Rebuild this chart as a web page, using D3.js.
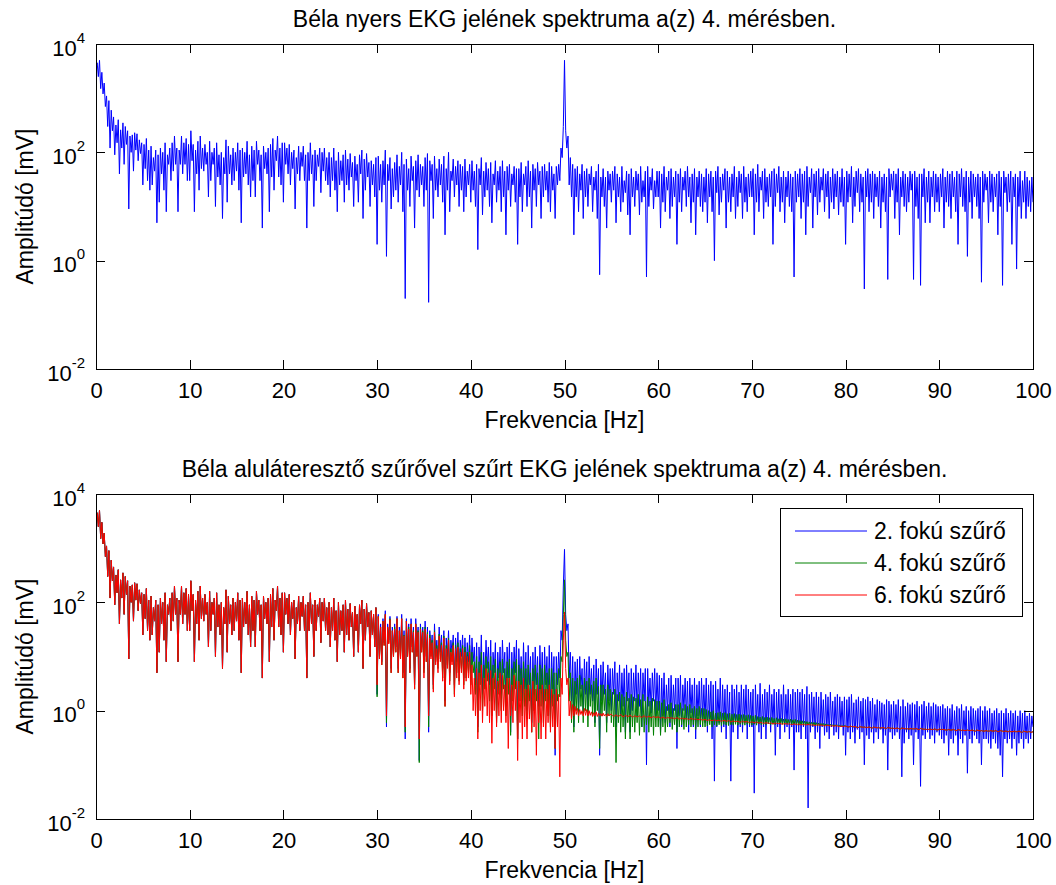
<!DOCTYPE html>
<html>
<head>
<meta charset="utf-8">
<script src="https://cdn.jsdelivr.net/npm/d3@7/dist/d3.min.js"></script>
<style>
  html, body { margin: 0; padding: 0; background: #ffffff; }
  svg { display: block; font-family: "Liberation Sans", Arial, sans-serif; }
</style>
</head>
<body>
<svg id="chart" width="1056" height="885"></svg>
<script>
// ---------- DATA (amplitude in mV, frequency bins every 0.125 Hz; one line = 5 Hz) ----------
const FREQ_STEP_HZ = 0.125;

const titles = [
  "Béla nyers EKG jelének spektruma a(z) 4. mérésben.",
  "Béla aluláteresztő szűrővel szűrt EKG jelének spektruma a(z) 4. mérésben."
];
const xLabel = "Frekvencia [Hz]";
const yLabel = "Amplitúdó [mV]";
const xTicks = [0, 10, 20, 30, 40, 50, 60, 70, 80, 90, 100];
const yTickExponents = [-2, 0, 2, 4];
const legendLabels = ["2. fokú szűrő", "4. fokú szűrő", "6. fokú szűrő"];
const seriesColors = ["#0000ff", "#008000", "#ff0000"];

// 0 – 29.875 Hz: band shared by the raw and the three filtered spectra
const lowBand = [
  3500, 4500, 2500, 5000, 1500, 3000, 1200, 1900, 700, 1100, 300, 900, 120, 600, 250, 450, 90, 320, 150, 400, 40, 260, 120, 350, 60, 300, 140, 250, 9, 200, 100, 210, 45, 230, 110, 220, 70, 170, 95, 150,
  25, 140, 50, 180, 30, 110, 20, 130, 25, 80, 45, 110, 5, 90, 12, 120, 40, 100, 20, 150, 8, 90, 60, 120, 30, 150, 45, 200, 60, 120, 8, 110, 60, 200, 40, 150, 60, 180, 30, 140,
  30, 250, 70, 140, 8, 110, 40, 160, 20, 200, 50, 120, 45, 140, 60, 100, 15, 160, 30, 100, 60, 120, 10, 150, 35, 90, 25, 100, 6, 80, 40, 170, 12, 130, 40, 90, 25, 120, 30, 100,
  45, 150, 20, 110, 5, 120, 35, 100, 40, 160, 25, 90, 15, 130, 30, 110, 15, 160, 60, 110, 30, 90, 4, 130, 50, 100, 40, 120, 8, 140, 35, 180, 20, 110, 70, 200, 35, 120, 25, 150,
  12, 150, 60, 120, 40, 140, 25, 100, 50, 110, 9, 80, 40, 130, 30, 100, 55, 130, 30, 90, 4, 100, 30, 150, 40, 90, 10, 110, 30, 90, 55, 120, 18, 100, 45, 120, 30, 80, 25, 100,
  15, 80, 30, 120, 20, 70, 8, 100, 25, 70, 30, 90, 12, 110, 25, 75, 20, 95, 35, 65, 10, 85, 30, 60, 12, 90, 40, 110, 6, 75, 20, 95, 35, 65, 10, 70, 25, 60, 15, 80
];

// 30 – 100 Hz: raw ECG spectrum
const rawHigh = [
  2, 85, 20, 60, 12, 70, 25, 110, 1.2, 60, 30, 80, 9, 50, 15, 65, 20, 90, 12, 55, 25, 100, 8, 60, 0.2, 75, 20, 50, 10, 85, 30, 55, 4, 70, 20, 90, 15, 60, 25, 55,
  10, 80, 20, 95, 0.17, 70, 30, 60, 6, 85, 20, 50, 15, 75, 25, 60, 12, 85, 3, 50, 20, 100, 8, 45, 30, 75, 15, 55, 25, 70, 10, 60, 20, 55, 8, 75, 15, 45, 25, 60,
  12, 70, 20, 45, 10, 60, 1.6, 50, 25, 80, 7, 45, 15, 65, 20, 50, 10, 65, 5, 40, 25, 70, 12, 45, 20, 55, 8, 70, 15, 45, 3, 55, 20, 60, 10, 40, 25, 55, 12, 50,
  2, 50, 15, 65, 8, 40, 25, 55, 10, 70, 15, 45, 4, 60, 20, 50, 10, 65, 25, 45, 6, 55, 15, 60, 20, 45, 12, 65, 8, 55, 20, 40, 6, 55, 25, 60, 30, 120, 80, 300,
  5000, 250, 120, 200, 25, 80, 15, 60, 3, 50, 15, 55, 8, 40, 20, 60, 6, 45, 15, 50, 10, 40, 25, 55, 8, 35, 20, 45, 6, 60, 0.55, 35, 15, 50, 10, 35, 4, 45, 20, 40,
  12, 45, 20, 55, 5, 40, 15, 35, 8, 55, 12, 30, 18, 45, 7, 40, 3, 50, 15, 35, 10, 45, 20, 40, 7, 55, 12, 30, 15, 45, 0.5, 55, 10, 35, 20, 50, 9, 30, 15, 45,
  15, 45, 4, 40, 12, 55, 8, 35, 20, 45, 6, 50, 10, 35, 15, 45, 2, 40, 12, 50, 8, 35, 20, 45, 10, 55, 15, 35, 5, 40, 12, 50, 3, 35, 15, 45, 10, 40, 8, 35,
  12, 50, 5, 40, 15, 45, 8, 35, 1, 45, 18, 55, 7, 35, 12, 40, 20, 50, 4, 45, 12, 35, 8, 40, 15, 55, 6, 35, 10, 45, 18, 40, 6, 55, 12, 35, 8, 40, 15, 45,
  15, 50, 3, 40, 12, 60, 8, 35, 20, 45, 6, 50, 12, 35, 10, 40, 15, 45, 2, 50, 10, 40, 18, 55, 8, 35, 12, 45, 5, 35, 15, 45, 10, 40, 8, 35, 0.5, 45, 12, 40,
  15, 50, 6, 40, 12, 45, 3, 55, 10, 35, 18, 50, 4, 40, 15, 45, 7, 50, 12, 35, 20, 50, 8, 40, 15, 45, 6, 35, 12, 50, 9, 40, 15, 45, 7, 35, 12, 50, 10, 35,
  2, 45, 12, 40, 15, 55, 5, 35, 10, 45, 18, 50, 8, 40, 12, 35, 0.3, 45, 15, 50, 8, 40, 12, 45, 6, 40, 15, 35, 10, 45, 4, 35, 12, 40, 8, 35, 0.45, 50, 15, 40,
  20, 45, 6, 40, 12, 50, 3, 35, 15, 45, 10, 40, 8, 35, 12, 45, 20, 40, 0.45, 45, 10, 35, 6, 40, 0.35, 40, 15, 50, 5, 35, 12, 45, 5, 35, 15, 45, 8, 40, 12, 35,
  8, 40, 15, 50, 4, 35, 12, 45, 10, 40, 6, 45, 15, 35, 8, 45, 2, 40, 15, 50, 10, 35, 8, 45, 1.2, 35, 12, 45, 6, 40, 15, 35, 10, 40, 6, 35, 0.4, 45, 12, 40,
  20, 35, 5, 45, 12, 40, 8, 35, 15, 40, 3, 45, 10, 35, 0.35, 45, 18, 35, 8, 40, 12, 45, 2, 35, 15, 40, 0.7, 35, 10, 45, 6, 30, 12, 45, 6, 35, 10, 30, 8, 35, 12
];

// 30 – 100 Hz: 2nd order low-pass filtered spectrum
const order2High = [
  2, 60, 10, 40, 8, 50, 18, 70, 0.5, 40, 20, 55, 6, 35, 12, 40, 15, 55, 6, 35, 12, 60, 5, 30, 0.3, 50, 12, 40, 6, 50, 15, 35, 3, 50, 12, 35, 0.12, 40, 15, 35,
  6, 45, 10, 35, 0.4, 30, 12, 25, 3, 40, 10, 20, 8, 35, 12, 25, 6, 30, 1.5, 22, 10, 30, 5, 20, 12, 25, 3, 22, 8, 28, 5, 20, 10, 25, 4, 22, 6, 18, 8, 25,
  4, 22, 8, 15, 3, 18, 0.5, 15, 5, 25, 2, 12, 4, 20, 6, 15, 3, 20, 1.5, 12, 5, 18, 0.8, 12, 4, 15, 2, 20, 5, 12, 1.2, 15, 4, 18, 0.4, 12, 3, 15, 5, 20,
  0.3, 14, 3, 10, 1.5, 18, 2.5, 12, 1, 16, 3, 10, 0.6, 12, 2, 15, 3, 10, 1.2, 16, 2.5, 12, 1, 15, 3, 10, 1.5, 16, 0.8, 12, 2.5, 10, 0.15, 10, 3, 12, 4, 30, 20, 200,
  950, 60, 30, 40, 4, 12, 1.5, 10, 0.5, 8, 2, 9, 1, 10, 2.5, 6, 1, 9, 2, 8, 0.8, 10, 2, 6, 1.5, 7, 0.6, 9, 2, 6, 0.15, 7, 1.5, 8, 2, 5, 0.6, 7, 1.5, 6,
  1, 6, 2, 8, 0.5, 5, 1.5, 7, 0.8, 5, 1.2, 6, 0.4, 7, 1.5, 5, 0.4, 6, 1, 5, 1.5, 7, 0.8, 5, 1.2, 6, 0.5, 5, 1.5, 6, 0.1, 6, 1.2, 4, 0.9, 5, 1.5, 6, 0.8, 5,
  1, 4.5, 0.4, 4, 0.8, 5, 0.6, 3, 1, 4, 0.5, 4.5, 0.7, 3, 1, 4, 0.2, 4, 0.8, 4.5, 0.5, 3, 1, 4, 0.7, 3.5, 0.4, 4, 0.9, 3, 0.5, 4, 0.3, 3, 0.8, 3.5, 0.5, 4, 0.7, 3,
  0.6, 4, 0.4, 3, 0.7, 3.5, 0.3, 3, 0.05, 3.5, 0.5, 2.5, 0.6, 4, 0.4, 3, 0.5, 2.5, 0.3, 3, 0.6, 2.2, 0.05, 3, 0.4, 2.5, 0.6, 3, 0.3, 2.2, 0.5, 3, 0.4, 2.5, 0.6, 3, 0.3, 2.5, 0.5, 2.2,
  0.5, 2.5, 0.03, 3, 0.6, 2, 0.4, 3.2, 0.3, 2, 0.5, 2.5, 0.3, 2.2, 0.6, 3, 0.4, 2, 0.6, 2.5, 0.15, 2.2, 0.5, 2.5, 0.3, 2, 0.6, 3, 0.4, 2, 0.5, 2.5, 0.3, 2, 0.5, 2.5, 0.08, 2.2, 0.4, 2.5,
  0.4, 2.2, 0.3, 2.5, 0.5, 2, 0.3, 2.8, 0.016, 2, 0.4, 2.2, 0.5, 1.8, 0.3, 2.2, 0.4, 1.8, 0.2, 2.2, 0.5, 1.6, 0.35, 2, 0.4, 1.8, 0.3, 2.2, 0.5, 1.5, 0.35, 1.8, 0.4, 2, 0.3, 1.8, 0.5, 1.5, 0.35, 1.8,
  0.15, 1.6, 0.4, 1.8, 0.3, 2, 0.4, 1.4, 0.25, 1.6, 0.45, 1.8, 0.3, 1.5, 0.4, 1.7, 0.1, 1.6, 0.35, 1.8, 0.3, 1.5, 0.4, 1.7, 0.25, 1.3, 0.4, 1.6, 0.3, 1.5, 0.45, 1.4, 0.25, 1.3, 0.35, 1.6, 0.08, 1.5, 0.4, 1.3,
  0.3, 1.5, 0.35, 1.3, 0.4, 1.6, 0.3, 1.2, 0.06, 1.6, 0.25, 1.2, 0.4, 1.4, 0.3, 1.3, 0.35, 1.4, 0.1, 1.3, 0.4, 1.5, 0.3, 1.2, 0.04, 1.3, 0.35, 1.5, 0.3, 1.2, 0.4, 1.4, 0.3, 1.2, 0.35, 1.4, 0.25, 1.3, 0.4, 1.2,
  0.35, 1.2, 0.3, 1.3, 0.25, 1.1, 0.35, 1.2, 0.15, 1.1, 0.3, 1.3, 0.25, 1, 0.35, 1.2, 0.15, 1.1, 0.3, 1.3, 0.25, 1, 0.35, 1.2, 0.07, 1, 0.3, 1.2, 0.25, 1.1, 0.35, 1, 0.3, 1.1, 0.25, 1.2, 0.1, 1, 0.3, 1.2,
  0.3, 1, 0.25, 1.1, 0.2, 0.9, 0.3, 1, 0.25, 1.1, 0.2, 0.9, 0.15, 1, 0.06, 0.9, 0.3, 1.1, 0.25, 0.9, 0.3, 1, 0.2, 0.9, 0.3, 1, 0.15, 0.8, 0.25, 1, 0.3, 0.9, 0.2, 1, 0.3, 0.8, 0.25, 0.9, 0.3, 0.8, 0.5
];

// 30 – 100 Hz: 4th order low-pass filtered spectrum
const order4High = [
  1.8, 55, 9, 35, 7, 45, 16, 60, 0.6, 35, 18, 50, 5, 30, 10, 35, 12, 50, 5, 30, 10, 50, 4, 25, 0.4, 45, 10, 35, 5, 40, 12, 30, 2.5, 40, 10, 30, 0.11, 35, 12, 30,
  5, 35, 8, 28, 0.5, 25, 10, 20, 2.5, 30, 8, 16, 6, 26, 9, 18, 4, 24, 1.2, 16, 7, 22, 3.5, 14, 8, 18, 2, 16, 5, 18, 3.5, 14, 6, 16, 3, 15, 4, 12, 5, 16,
  3, 12, 5, 8, 2, 10, 0.4, 8, 3, 12, 1, 7, 2.5, 10, 3.5, 8, 1.5, 10, 0.8, 7, 2.5, 9, 0.6, 6, 2, 8, 1, 9, 2.5, 6, 0.8, 8, 2, 9, 0.35, 6, 1.5, 8, 2.5, 9,
  0.3, 7, 1.5, 6, 0.8, 8, 1.2, 6, 0.7, 7, 1.5, 5, 0.4, 6, 1, 7, 1.5, 5, 0.3, 7, 1.2, 6, 0.6, 7, 1.5, 5, 0.8, 6, 0.5, 6, 1.2, 5, 0.2, 5, 1.5, 6, 1.8, 10, 8, 60,
  260, 20, 10, 12, 1.5, 5, 0.6, 4, 0.4, 3.5, 1, 4, 0.6, 4.5, 1.2, 3, 0.6, 4, 1, 3.5, 0.5, 4, 1.2, 3, 0.8, 3.5, 0.5, 4, 1, 2.8, 0.2, 3, 0.8, 3, 1, 2.5, 0.4, 3, 0.8, 2.5,
  0.6, 2.2, 0.5, 2.5, 0.11, 2, 0.6, 2.2, 0.4, 2, 0.5, 1.8, 0.3, 2.2, 0.6, 1.7, 0.3, 2, 0.5, 1.8, 0.4, 1.7, 0.6, 2, 0.35, 1.6, 0.5, 2, 0.4, 1.5, 0.55, 1.8, 0.4, 1.5, 0.5, 1.7, 0.35, 1.6, 0.5, 1.5,
  0.5, 1.5, 0.35, 1.4, 0.5, 1.6, 0.4, 1.2, 0.5, 1.3, 0.6, 1.4, 0.45, 1.1, 0.55, 1.3, 0.4, 1.3, 0.5, 1.4, 0.55, 1.1, 0.45, 1.3, 0.5, 1.2, 0.55, 1.3, 0.5, 1.1, 0.55, 1.2, 0.45, 1.1, 0.5, 1.2, 0.55, 1.1, 0.5, 1.1,
  0.5, 1.05, 0.52, 1, 0.55, 0.95, 0.5, 1, 0.55, 0.9, 0.52, 0.92, 0.55, 0.95, 0.53, 0.9, 0.56, 0.92, 0.54, 0.88, 0.53, 0.9, 0.55, 0.86, 0.54, 0.88, 0.56, 0.85, 0.54, 0.86, 0.56, 0.84, 0.55, 0.85, 0.54, 0.82, 0.56, 0.84, 0.55, 0.82,
  0.54, 0.8, 0.56, 0.82, 0.54, 0.78, 0.57, 0.76, 0.55, 0.78, 0.56, 0.75, 0.55, 0.76, 0.57, 0.74, 0.55, 0.75, 0.56, 0.72, 0.55, 0.74, 0.57, 0.71, 0.56, 0.72, 0.56, 0.7, 0.55, 0.71, 0.57, 0.69, 0.56, 0.7, 0.55, 0.68, 0.56, 0.69, 0.55, 0.67,
  0.54, 0.66, 0.55, 0.65, 0.54, 0.64, 0.55, 0.63, 0.54, 0.62, 0.54, 0.61, 0.53, 0.61, 0.54, 0.6, 0.53, 0.59, 0.53, 0.58, 0.53, 0.58, 0.52, 0.57, 0.53, 0.56, 0.52, 0.56, 0.52, 0.55, 0.52, 0.55, 0.52, 0.54, 0.52, 0.54, 0.51, 0.53, 0.51, 0.53,
  0.52, 0.51, 0.5, 0.5, 0.52, 0.51, 0.51, 0.5, 0.51, 0.5, 0.49, 0.49, 0.51, 0.5, 0.5, 0.49, 0.5, 0.49, 0.49, 0.49, 0.5, 0.49, 0.48, 0.48, 0.5, 0.49, 0.49, 0.48, 0.49, 0.48, 0.48, 0.48, 0.49, 0.48, 0.47, 0.47, 0.49, 0.48, 0.48, 0.47,
  0.48, 0.47, 0.47, 0.47, 0.48, 0.47, 0.46, 0.46, 0.48, 0.47, 0.47, 0.46, 0.47, 0.46, 0.46, 0.46, 0.47, 0.46, 0.46, 0.46, 0.47, 0.46, 0.45, 0.45, 0.47, 0.46, 0.46, 0.45, 0.46, 0.45, 0.45, 0.45, 0.46, 0.45, 0.45, 0.45, 0.46, 0.45, 0.44, 0.44,
  0.46, 0.45, 0.45, 0.45, 0.45, 0.44, 0.44, 0.44, 0.45, 0.44, 0.44, 0.44, 0.45, 0.44, 0.43, 0.43, 0.45, 0.44, 0.44, 0.43, 0.44, 0.43, 0.43, 0.43, 0.44, 0.43, 0.43, 0.43, 0.44, 0.43, 0.42, 0.42, 0.44, 0.43, 0.43, 0.42, 0.43, 0.42, 0.42, 0.42,
  0.43, 0.42, 0.42, 0.42, 0.43, 0.42, 0.42, 0.42, 0.43, 0.42, 0.41, 0.41, 0.43, 0.42, 0.42, 0.41, 0.42, 0.42, 0.41, 0.41, 0.42, 0.41, 0.41, 0.41, 0.42, 0.41, 0.41, 0.41, 0.42, 0.41, 0.4, 0.4, 0.42, 0.41, 0.41, 0.4, 0.41, 0.41, 0.4, 0.4, 0.41
];

// 30 – 100 Hz: 6th order low-pass filtered spectrum
const order6High = [
  3, 55, 9, 35, 7, 45, 16, 60, 0.8, 35, 17, 48, 5, 30, 10, 32, 12, 50, 5, 30, 9, 50, 4, 24, 0.5, 45, 10, 32, 5, 40, 12, 28, 2.5, 40, 10, 28, 0.3, 32, 12, 28,
  4, 32, 8, 26, 0.8, 22, 9, 18, 2.2, 28, 7, 14, 5, 24, 8, 16, 3.5, 22, 1.2, 14, 6, 20, 3, 12, 7, 16, 1.8, 14, 4, 15, 3, 12, 5, 14, 2.5, 12, 3.5, 10, 4, 12,
  2, 7, 1, 4, 0.8, 6, 0.3, 5, 1, 7, 0.6, 4, 1.2, 6, 0.8, 5, 0.6, 5.5, 0.25, 4, 1, 5, 0.5, 3.5, 0.8, 5, 0.6, 4.5, 1, 3, 0.6, 4, 0.2, 4, 0.8, 3, 0.6, 4.5, 1, 3.5,
  0.12, 3.5, 0.6, 3, 0.3, 4, 0.5, 2.5, 0.3, 3, 0.7, 2.5, 0.4, 3.5, 0.5, 2.5, 0.15, 3, 0.6, 2.5, 0.3, 3, 0.5, 2.5, 0.3, 2.5, 0.6, 3, 0.4, 2.5, 0.5, 2, 0.2, 2.5, 0.5, 2, 0.06, 4, 2, 20,
  66, 6, 3, 4, 0.8, 1.5, 0.7, 1.3, 0.8, 1.2, 0.85, 1.1, 0.8, 1.05, 0.85, 1, 0.8, 1.1, 0.82, 1.05, 0.8, 1, 0.82, 0.95, 0.78, 0.92, 0.8, 0.95, 0.78, 0.9, 0.8, 0.88, 0.79, 0.9, 0.8, 0.86, 0.78, 0.88, 0.8, 0.85,
  0.86, 0.81, 0.78, 0.81, 0.84, 0.8, 0.79, 0.81, 0.85, 0.8, 0.77, 0.79, 0.82, 0.8, 0.78, 0.79, 0.83, 0.79, 0.76, 0.78, 0.81, 0.78, 0.77, 0.78, 0.8, 0.77, 0.75, 0.78, 0.81, 0.77, 0.76, 0.77, 0.79, 0.76, 0.74, 0.76, 0.78, 0.76, 0.75, 0.76,
  0.77, 0.75, 0.73, 0.74, 0.76, 0.74, 0.72, 0.73, 0.75, 0.74, 0.73, 0.73, 0.74, 0.72, 0.71, 0.72, 0.75, 0.72, 0.7, 0.71, 0.73, 0.71, 0.71, 0.7, 0.72, 0.7, 0.69, 0.7, 0.72, 0.7, 0.7, 0.69, 0.71, 0.69, 0.68, 0.69, 0.7, 0.68, 0.67, 0.68,
  0.69, 0.67, 0.66, 0.67, 0.68, 0.66, 0.66, 0.66, 0.68, 0.66, 0.65, 0.66, 0.67, 0.65, 0.64, 0.65, 0.66, 0.65, 0.64, 0.64, 0.66, 0.64, 0.62, 0.63, 0.65, 0.63, 0.63, 0.63, 0.64, 0.62, 0.61, 0.62, 0.64, 0.62, 0.62, 0.62, 0.63, 0.61, 0.6, 0.61,
  0.62, 0.61, 0.6, 0.6, 0.62, 0.6, 0.59, 0.6, 0.61, 0.59, 0.58, 0.59, 0.6, 0.59, 0.59, 0.58, 0.6, 0.58, 0.57, 0.58, 0.59, 0.58, 0.58, 0.57, 0.59, 0.57, 0.56, 0.57, 0.58, 0.57, 0.57, 0.56, 0.58, 0.56, 0.55, 0.56, 0.57, 0.56, 0.56, 0.55,
  0.57, 0.55, 0.55, 0.55, 0.56, 0.55, 0.54, 0.55, 0.56, 0.55, 0.55, 0.54, 0.55, 0.54, 0.53, 0.54, 0.55, 0.54, 0.54, 0.54, 0.54, 0.53, 0.52, 0.53, 0.54, 0.53, 0.53, 0.52, 0.53, 0.52, 0.52, 0.52, 0.53, 0.52, 0.51, 0.51, 0.52, 0.51, 0.51, 0.51,
  0.52, 0.51, 0.5, 0.5, 0.52, 0.51, 0.51, 0.5, 0.51, 0.5, 0.49, 0.49, 0.51, 0.5, 0.5, 0.49, 0.5, 0.49, 0.49, 0.49, 0.5, 0.49, 0.48, 0.48, 0.5, 0.49, 0.49, 0.48, 0.49, 0.48, 0.48, 0.48, 0.49, 0.48, 0.47, 0.47, 0.49, 0.48, 0.48, 0.47,
  0.48, 0.47, 0.47, 0.47, 0.48, 0.47, 0.46, 0.46, 0.48, 0.47, 0.47, 0.46, 0.47, 0.46, 0.46, 0.46, 0.47, 0.46, 0.46, 0.46, 0.47, 0.46, 0.45, 0.45, 0.47, 0.46, 0.46, 0.45, 0.46, 0.45, 0.45, 0.45, 0.46, 0.45, 0.45, 0.45, 0.46, 0.45, 0.44, 0.44,
  0.46, 0.45, 0.45, 0.45, 0.45, 0.44, 0.44, 0.44, 0.45, 0.44, 0.44, 0.44, 0.45, 0.44, 0.43, 0.43, 0.45, 0.44, 0.44, 0.43, 0.44, 0.43, 0.43, 0.43, 0.44, 0.43, 0.43, 0.43, 0.44, 0.43, 0.42, 0.42, 0.44, 0.43, 0.43, 0.42, 0.43, 0.42, 0.42, 0.42,
  0.43, 0.42, 0.42, 0.42, 0.43, 0.42, 0.42, 0.42, 0.43, 0.42, 0.41, 0.41, 0.43, 0.42, 0.42, 0.41, 0.42, 0.42, 0.41, 0.41, 0.42, 0.41, 0.41, 0.41, 0.42, 0.41, 0.41, 0.41, 0.42, 0.41, 0.4, 0.4, 0.42, 0.41, 0.41, 0.4, 0.41, 0.41, 0.4, 0.4, 0.41
];

// ---------- ASSEMBLY ----------
const rawSpectrum = lowBand.concat(rawHigh);
const filteredSpectra = [
  lowBand.concat(order2High),
  lowBand.concat(order4High),
  lowBand.concat(order6High)
];
const toPoints = vals => vals.map((v, i) => ({ f: i * FREQ_STEP_HZ, v }));

// ---------- LAYOUT ----------
const svg = d3.select("#chart");
const plotLeft = 96, plotRight = 1033;
const panels = [
  { top: 44, bottom: 369 },
  { top: 494, bottom: 819 }
];
const FONT = 23, TICK_FONT = 22;

const x = d3.scaleLinear().domain([0, 100]).range([plotLeft, plotRight]);

function drawPanel(pi, seriesList, colors) {
  const p = panels[pi];
  const y = d3.scaleLog().domain([1e-2, 1e4]).range([p.bottom, p.top]);
  const g = svg.append("g");

  const clipId = "clip" + pi;
  svg.append("defs").append("clipPath").attr("id", clipId)
    .append("rect").attr("x", plotLeft).attr("y", p.top)
    .attr("width", plotRight - plotLeft).attr("height", p.bottom - p.top);

  const line = d3.line().x(d => x(d.f)).y(d => y(d.v));
  const lines = g.append("g").attr("clip-path", `url(#${clipId})`);
  seriesList.forEach((vals, k) => {
    lines.append("path")
      .attr("d", line(toPoints(vals)))
      .attr("fill", "none")
      .attr("stroke", colors[k])
      .attr("stroke-width", 1)
      .attr("stroke-linejoin", "miter");
  });

  const tickVals = yTickExponents.map(e => Math.pow(10, e));

  const axB = g.append("g").attr("transform", `translate(0,${p.bottom})`)
    .call(d3.axisBottom(x).tickValues(xTicks).tickSize(-9).tickSizeOuter(0).tickPadding(13)
      .tickFormat(d3.format("d")));
  axB.selectAll("text").attr("font-size", TICK_FONT).attr("fill", "#000");
  g.append("g").attr("transform", `translate(0,${p.top})`)
    .call(d3.axisTop(x).tickValues(xTicks).tickSize(-9).tickSizeOuter(0).tickFormat(() => ""));
  const axL = g.append("g").attr("transform", `translate(${plotLeft},0)`)
    .call(d3.axisLeft(y).tickValues(tickVals).tickSize(-9).tickSizeOuter(0).tickFormat(() => ""));
  axL.selectAll(".tick text").each(function(d) {
    const t = d3.select(this);
    const e = Math.round(Math.log10(d));
    t.attr("x", -11).attr("dy", null).attr("y", 0).attr("text-anchor", "end")
      .attr("fill", "#000");
    t.append("tspan").attr("dy", 11).attr("font-size", TICK_FONT).text("10");
    t.append("tspan").attr("dy", -13).attr("font-size", 15).text(String(e));
  });
  g.append("g").attr("transform", `translate(${plotRight},0)`)
    .call(d3.axisRight(y).tickValues(tickVals).tickSize(-9).tickSizeOuter(0).tickFormat(() => ""));

  g.selectAll(".domain, .tick line").attr("stroke", "#000").attr("stroke-width", 1)
    .attr("shape-rendering", "crispEdges");
  g.selectAll(".tick text").attr("font-family", "Liberation Sans, Arial, sans-serif");

  g.append("text").attr("x", (plotLeft + plotRight) / 2).attr("y", p.top - 17)
    .attr("text-anchor", "middle").attr("font-size", FONT).text(titles[pi]);
  g.append("text").attr("x", (plotLeft + plotRight) / 2).attr("y", p.bottom + 59)
    .attr("text-anchor", "middle").attr("font-size", FONT).text(xLabel);
  g.append("text")
    .attr("transform", `translate(33,${(p.top + p.bottom) / 2}) rotate(-90)`)
    .attr("text-anchor", "middle").attr("font-size", FONT).text(yLabel);
  return g;
}

drawPanel(0, [rawSpectrum], ["#0000ff"]);
const g2 = drawPanel(1, filteredSpectra, seriesColors);

// legend
const lg = g2.append("g");
const lgBox = { x0: 780, y0: 508, x1: 1022, y1: 616 };
lg.append("rect").attr("x", lgBox.x0 + 0.5).attr("y", lgBox.y0 + 0.5)
  .attr("width", lgBox.x1 - lgBox.x0).attr("height", lgBox.y1 - lgBox.y0)
  .attr("fill", "#fff").attr("stroke", "#000").attr("stroke-width", 1);
const rowY = d3.scalePoint().domain(legendLabels).range([531, 595]);
legendLabels.forEach((lab, k) => {
  const yy = rowY(lab);
  lg.append("line").attr("x1", 795).attr("x2", 867).attr("y1", yy).attr("y2", yy)
    .attr("stroke", seriesColors[k]).attr("stroke-width", 1);
  lg.append("text").attr("x", 874).attr("y", yy + 8).attr("font-size", FONT).text(lab);
});
</script>
</body>
</html>
